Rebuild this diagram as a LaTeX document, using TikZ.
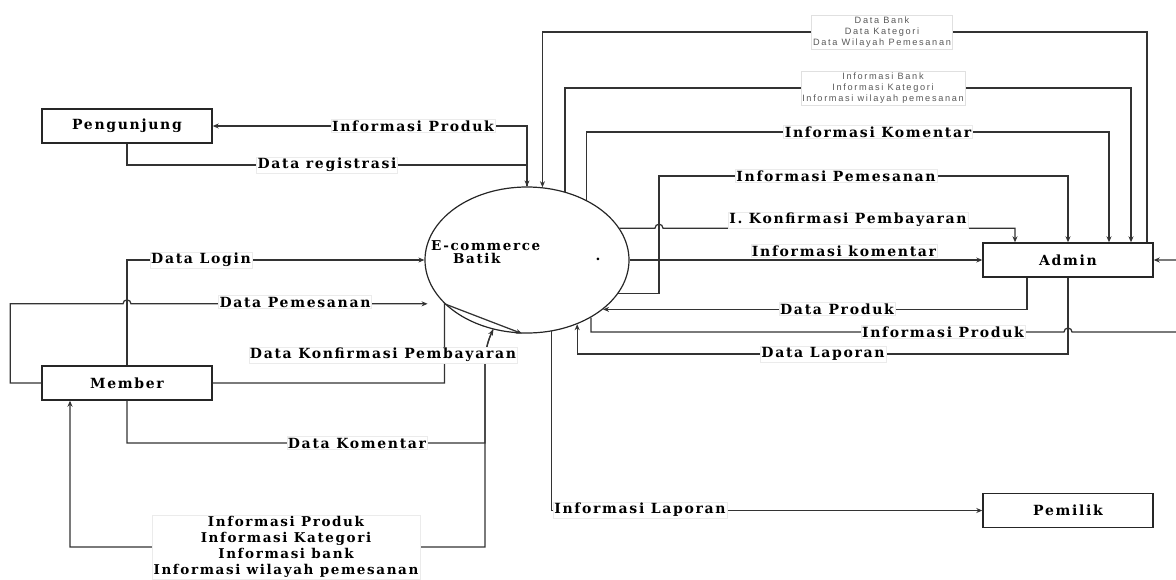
\documentclass[tikz,border=0pt]{standalone}
\usepackage{fontspec}
\usetikzlibrary{arrows.meta,shapes.geometric,calc}
\newfontfamily\lblfont[LetterSpace=12]{DejaVu Serif}
\newfontfamily\smallfont[LetterSpace=18]{Liberation Sans}
\newcommand\lbltext{\fontsize{14}{14}\selectfont\lblfont\bfseries}
\newcommand\lbltextml{\fontsize{13.5}{16}\selectfont\lblfont\bfseries}
\newcommand\smalltext{\fontsize{9.2}{11}\selectfont\smallfont}
\begin{document}
\begin{tikzpicture}[x=1pt,y=-1pt,
  box/.style={draw=black!85,line width=1.4pt,minimum width=170pt,minimum height=34pt,inner sep=0pt,font=\lbltext},
  conn/.style={draw=black!80,line width=1.25pt,-{Stealth[length=6pt,width=5pt]}},
  lbl/.style={fill=white,draw=black!8,inner sep=1.2pt,font=\lbltext},
  mlbl/.style={fill=white,draw=black!8,inner sep=1.5pt,align=center,font=\lbltextml},
  slbl/.style={fill=white,draw=black!12,inner sep=1.5pt,align=center,font=\smalltext,text=black!65}]
\useasboundingbox (0,0) rectangle (1176,579);
% entities and process
\node[box] (peng) at (127,126) {Pengunjung};
\node[box] (member) at (127,383) {Member};
\node[box] (admin) at (1068,260) {Admin};
\node[box] (pemilik) at (1068,510.5) {Pemilik};
\node[ellipse,draw=black!85,line width=1.2pt,minimum width=204pt,minimum height=146pt,inner sep=0pt] (proc) at (527,260) {};
\node[anchor=west,align=left,font=\fontsize{13.5}{13}\selectfont\lblfont\bfseries,inner sep=0pt] (ptext) at (431,252.5) {E-commerce\\\hspace*{22pt}Batik};
\node[font=\lbltext,inner sep=0pt] (pdot) at (598,259) {.};
% Pengunjung flows
\draw[conn] (proc.north) |- (peng.east);
\draw[conn] (peng.south) |- (proc.north |- 0,165) -- (proc.north);
% Member flows
\draw[conn] (member.north) |- (proc.west);
\draw[conn] (member.west) -- ++(-31,0) |- ($(member.north |- proc.-152)+(-4,0)$) arc[start angle=180,end angle=0,radius=4pt] -- ($(proc.-152)+(-17,0)$);
\draw[conn] (member.east) -| (proc.-152) -- (proc.-94);
\draw[conn] (member.south) |- (485,443) -- (485,368) to[out=90,in=-115] (proc.-116);
\draw[conn] (proc.-116) to[out=-115,in=90] (485,368) -- (485,547) -| ([xshift=-57pt]member.south);
% Admin flows
\draw[conn] ([xshift=79pt]admin.north) |- (proc.78 |- 0,32) -- (proc.78);
\draw[conn] (proc.61) |- (1131,88) -- ([xshift=63pt]admin.north);
\draw[conn] (proc.45) |- (1109,132) -- ([xshift=41pt]admin.north);
\draw[conn] (proc.-20) -| (659,176) -| (admin.north);
\draw[conn] (proc.19) -- ($(proc.19 -| 659,0)+(-4,0)$) arc[start angle=180,end angle=0,radius=4pt] -| ([xshift=-53pt]admin.north);
\draw[conn] (proc.east) -- (admin.west);
\draw[conn] ([xshift=-41pt]admin.south) |- (proc.-33);
\draw[conn] (admin.south) |- (proc.-52 |- 0,354) -- (proc.-52);
\draw[conn] (proc.-42) |- (1064,332) arc[start angle=180,end angle=0,radius=4pt] -- (1186,332) |- (admin.east);
% Pemilik flow
\draw[conn] (proc.-71) |- (pemilik.west);
% labels
\node[lbl] (l1) at (413,126) {Informasi Produk};
\node[lbl] (l2) at (327,165) {Data registrasi};
\node[lbl] (l3) at (201,260) {Data Login};
\node[lbl] (l4) at (295,302) {Data Pemesanan};
\node[lbl] (l5) at (383,355) {Data Konfirmasi Pembayaran};
\node[lbl] (l6) at (357,443) {Data Komentar};
\node[mlbl] (l7) at (286,547) {Informasi Produk\\Informasi Kategori\\Informasi bank\\Informasi wilayah pemesanan};
\node[slbl] (l8) at (882,32) {Data Bank\\Data Kategori\\Data Wilayah Pemesanan};
\node[slbl] (l9) at (883,88) {Informasi Bank\\Informasi Kategori\\Informasi wilayah pemesanan};
\node[lbl] (l10) at (878,132) {Informasi Komentar};
\node[lbl] (l11) at (836,176) {Informasi Pemesanan};
\node[lbl] (l12) at (848,220) {I. Konfirmasi Pembayaran};
\node[lbl] (l13) at (844,251) {Informasi komentar};
\node[lbl] (l14) at (837,309) {Data Produk};
\node[lbl] (l15) at (943,332) {Informasi Produk};
\node[lbl] (l16) at (823,354) {Data Laporan};
\node[lbl] (l17) at (640,510) {Informasi Laporan};
\end{tikzpicture}
\end{document}
